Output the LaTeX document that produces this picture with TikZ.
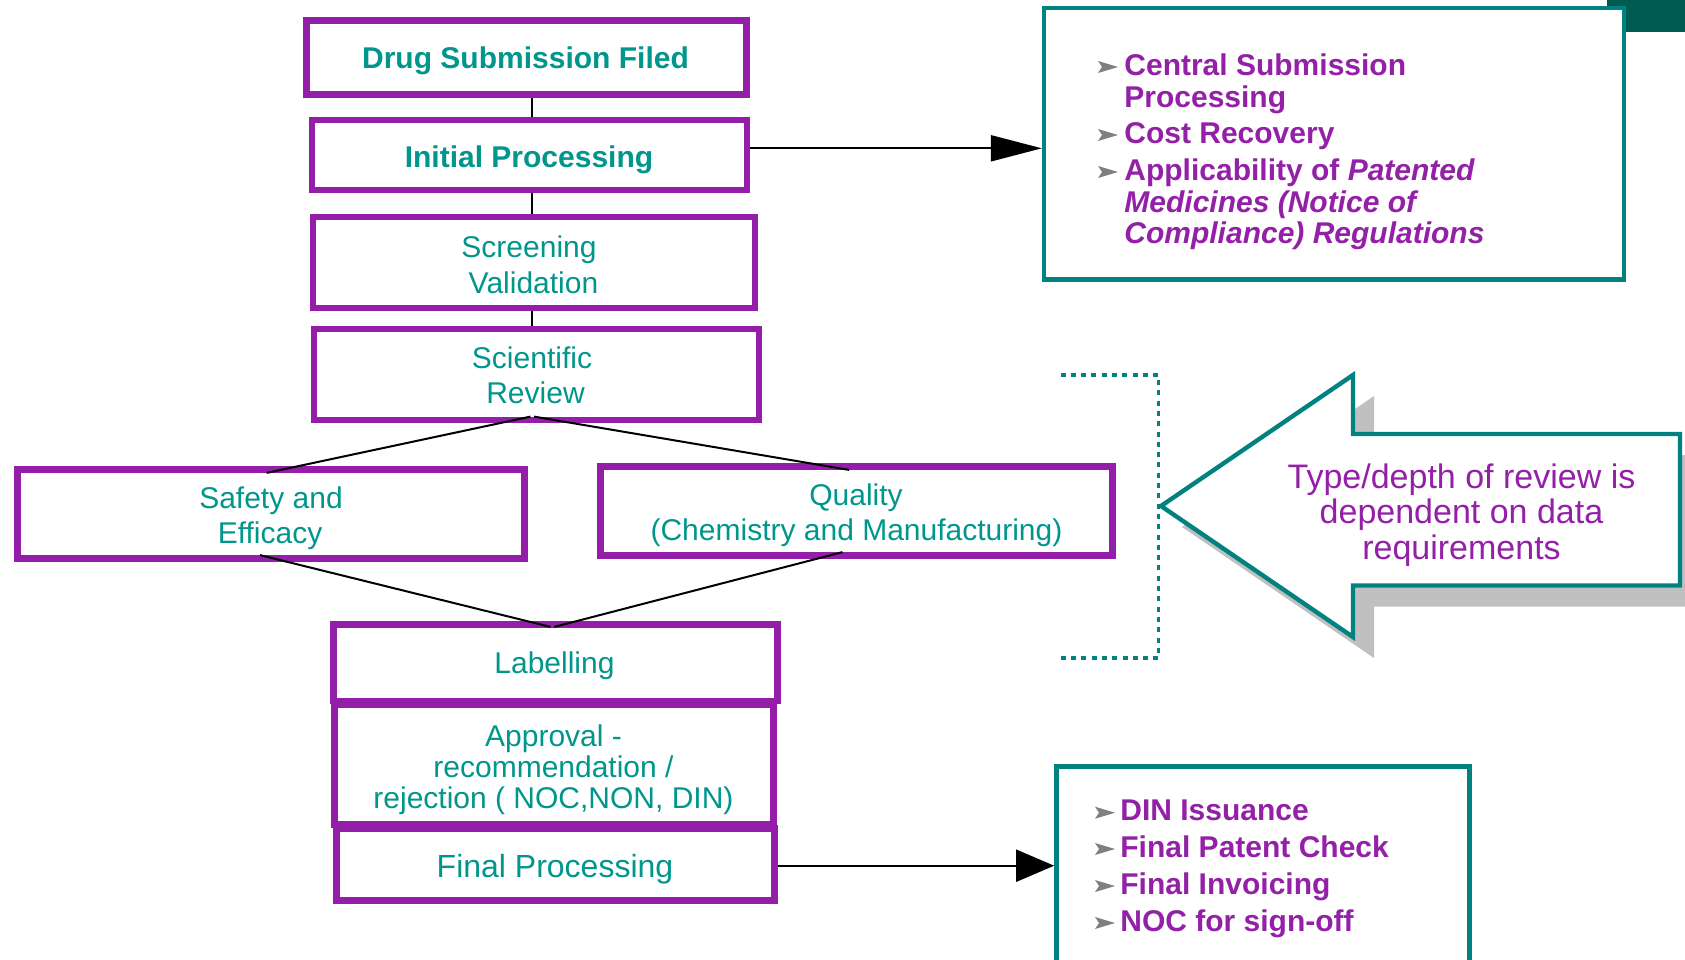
\documentclass[tikz,border=0pt]{standalone}
\usepackage{fontspec}
\setmainfont{Liberation Sans}
\usetikzlibrary{arrows.meta,calc,backgrounds}
\definecolor{pborder}{RGB}{148,29,169}
\definecolor{tealtext}{RGB}{0,150,140}
\definecolor{tealline}{RGB}{0,130,128}
\definecolor{ptext}{RGB}{148,32,168}
\definecolor{bulgray}{RGB}{128,128,128}
\definecolor{darkteal}{RGB}{0,92,82}
\definecolor{shadowgray}{RGB}{192,192,192}
\tikzset{
  pbox/.style={draw=pborder, line width=3.4pt, rectangle, inner sep=0pt, outer sep=0pt},
  tbox/.style={draw=tealline, line width=2.15pt, rectangle, fill=white, inner sep=0pt},
  txt/.style={inner sep=0pt, anchor=base, text=tealtext, font=\fontsize{15pt}{18pt}\selectfont},
  btxt/.style={txt, font=\fontsize{15pt}{18pt}\selectfont\bfseries},
  ptxt/.style={inner sep=0pt, anchor=base west, text=ptext, font=\fontsize{15pt}{18pt}\selectfont\bfseries},
  atxt/.style={inner sep=0pt, anchor=base, text=ptext, font=\fontsize{17pt}{18pt}\selectfont},
  conn/.style={draw=black, line width=1pt},
  bul/.pic={\fill[bulgray] (0,0) -- (20,-6) -- (0,-12) -- (4,-6) -- cycle;}
}
\begin{document}
\begin{tikzpicture}[x=0.5pt,y=-0.5pt]
\path[use as bounding box] (0,0) rectangle (1685,959);
\clip (0,0) rectangle (1685,959);

% top-right dark corner
\fill[darkteal] (1607,0) rectangle (1685,32);

% flowchart boxes
\node[pbox, minimum width=220pt, minimum height=37pt] (b1) at (526.5,57.5) {};
\node[pbox, minimum width=217.5pt, minimum height=35pt] (b2) at (529.5,155) {};
\node[pbox, minimum width=221pt, minimum height=45.5pt] (b3) at (534,262.5) {};
\node[pbox, minimum width=222.5pt, minimum height=45.5pt] (b4) at (536.5,374.5) {};
\node[pbox, minimum width=253.5pt, minimum height=44.5pt] (b5) at (271,514) {};
\node[pbox, minimum width=256pt, minimum height=44.5pt] (b6) at (856.5,511) {};
\node[pbox, minimum width=222pt, minimum height=38.25pt] (b7) at (555.5,662.75) {};
\node[pbox, minimum width=219.5pt, minimum height=60pt] (b8) at (554,764.5) {};
\node[pbox, minimum width=219pt, minimum height=36pt] (b9) at (555.5,864.5) {};

% teal info boxes
\node[tbox, minimum width=290pt, minimum height=135.75pt] (t1) at (1334,143.75) {};
\node[tbox, line width=2.35pt, minimum width=206.5pt, minimum height=106.75pt] (t2) at (1263,873.25) {};

% box texts
\node[btxt] (tdsf) at (525.5,68) {Drug Submission Filed};
\node[btxt] (tip) at (529,167) {Initial Processing};
\node[txt] (tscr) at (529,257) {Screening};
\node[txt] (tval) at (533.5,293) {Validation};
\node[txt] (tsci) at (532,368) {Scientific};
\node[txt] (trev) at (535.5,403) {Review};
\node[txt] (tsaf) at (271,508) {Safety and};
\node[txt] (teff) at (270,543) {Efficacy};
\node[txt] (tqual) at (856,505.5) {Quality};
\node[txt] (tchem) at (856.5,540) {(Chemistry and Manufacturing)};
\node[txt] (tlab) at (554.5,673) {Labelling};
\node[txt] (tapp1) at (553.5,746) {Approval -};
\node[txt] (tapp2) at (553.5,777) {recommendation /};
\node[txt] (tapp3) at (553.5,808) {rejection ( NOC,NON, DIN)};
\node[txt, font=\fontsize{16pt}{19pt}\selectfont] (tfin) at (555,877) {Final Processing};

% top info text
\pic at (1098,73) {bul};
\pic at (1098,141) {bul};
\pic at (1098,178) {bul};
\node[ptxt] (c1) at (1124,75) {Central Submission};
\node[ptxt] (c2) at (1124,107) {Processing};
\node[ptxt] (c3) at (1124,143) {Cost Recovery};
\node[ptxt] (c4) at (1124,180) {Applicability of \textit{Patented}};
\node[ptxt] (c5) at (1124,212) {\textit{Medicines (Notice of}};
\node[ptxt] (c6) at (1124,243) {\textit{Compliance) Regulations}};

% bottom info text
\pic at (1095,818.7) {bul};
\pic at (1095,855) {bul};
\pic at (1095,892) {bul};
\pic at (1095,929) {bul};
\node[ptxt] (d1) at (1120,820.7) {DIN Issuance};
\node[ptxt] (d2) at (1120,857) {Final Patent Check};
\node[ptxt] (d3) at (1120,894) {Final Invoicing};
\node[ptxt] (d4) at (1120,931) {NOC for sign-off};

% dotted bracket
\draw[tealline, line width=1.7pt, dash pattern=on 2.5pt off 2.65pt]
  (1060.5,375) -- (1158.5,375) -- (1158.5,658) -- (1058.5,658);

% block arrow with shadow
\fill[shadowgray, shift={(21,21)}] (1161,506) -- (1353,375) -- (1353,434) -- (1680,434)
  -- (1680,585.5) -- (1353,585.5) -- (1353,637) -- cycle;
\draw[tealline, line width=2.2pt, fill=white, line join=miter] (1161,506) -- (1353,375) -- (1353,434)
  -- (1680,434) -- (1680,585.5) -- (1353,585.5) -- (1353,637) -- cycle;
\node[atxt] (ar1) at (1461.5,488) {Type/depth of review is};
\node[atxt] (ar2) at (1461.5,523.5) {dependent on data};
\node[atxt] (ar3) at (1461.5,559) {requirements};

% slanted connectors (drawn over the borders, inner edge to inner edge)
\draw[conn] ([xshift=-3pt,yshift=1.7pt]b4.south) -- ([xshift=-2.2pt,yshift=-1.7pt]b5.north);
\draw[conn] ([xshift=-1.2pt,yshift=1.7pt]b4.south) -- ([xshift=-3.7pt,yshift=-1.7pt]b6.north);
\draw[conn] ([xshift=-5.5pt,yshift=1.7pt]b5.south) -- ([xshift=-2.5pt,yshift=-1.2pt]b7.north);
\draw[conn] ([xshift=-7pt,yshift=1.7pt]b6.south) -- ([xshift=-0.6pt,yshift=-1.2pt]b7.north);

% straight connectors
\coordinate (sp) at (532,0);
\coordinate (a1) at ([yshift=3.35pt]b2.east);
\coordinate (a2) at ([yshift=-0.6pt]b9.east);
\begin{scope}[on background layer]
\draw[conn] (b1.south -| sp) -- (b2.north -| sp);
\draw[conn] (b2.south -| sp) -- (b3.north -| sp);
\draw[conn] (b3.south -| sp) -- (b4.north -| sp);
\draw[conn, -{Triangle[length=25.5pt,width=13pt]}] (a1) -- (a1 -| t1.west);
\draw[conn, -{Triangle[length=19pt,width=16pt]}] (a2) -- (a2 -| t2.west);
\end{scope}
\end{tikzpicture}
\end{document}
